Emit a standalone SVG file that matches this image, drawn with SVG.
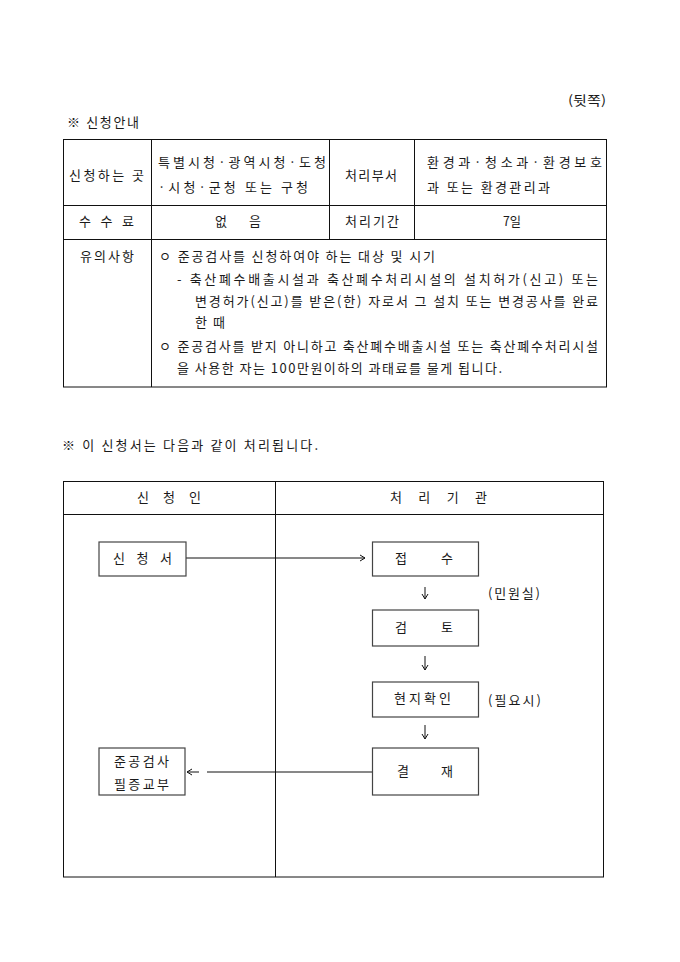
<svg xmlns="http://www.w3.org/2000/svg" width="680" height="962" viewBox="0 0 680 962">
<defs>
<style>
text{font-family:"Noto Sans CJK KR","Noto Sans",sans-serif;font-size:13px;fill:#1a1a1a;}
.c{text-anchor:middle;}
.r{text-anchor:end;}
.tl{stroke:#111;stroke-width:1;fill:none;}
.box{stroke:#444;stroke-width:1.2;fill:#fff;}
.con{stroke:#111;stroke-width:1;fill:none;}
</style>
<marker id="ah" markerWidth="8" markerHeight="8" refX="7" refY="4" orient="auto" markerUnits="userSpaceOnUse">
<path d="M2,1 L7,4 L2,7" fill="none" stroke="#111" stroke-width="1"/>
</marker>
</defs>
<rect width="680" height="962" fill="#fff"/>

<text class="r" x="606" y="105" textLength="38" lengthAdjust="spacingAndGlyphs">(뒷쪽)</text>
<text x="67" y="127" textLength="72" lengthAdjust="spacing">※ 신청안내</text>

<g id="info-table">
<rect class="tl" x="63.5" y="139.5" width="543" height="247.5"/>
<line class="tl" x1="63.5" y1="205.5" x2="606.5" y2="205.5"/>
<line class="tl" x1="63.5" y1="239.5" x2="606.5" y2="239.5"/>
<line class="tl" x1="151.5" y1="139.5" x2="151.5" y2="387"/>
<line class="tl" x1="329.5" y1="139.5" x2="329.5" y2="239.5"/>
<line class="tl" x1="414.5" y1="139.5" x2="414.5" y2="239.5"/>

<text x="69" y="180" textLength="75" lengthAdjust="spacing">신청하는 곳</text>
<text x="158" y="167" textLength="168" lengthAdjust="spacing">특별시청·광역시청·도청</text>
<text x="158" y="192" textLength="150" lengthAdjust="spacing">·시청·군청 또는 구청</text>
<text x="345" y="180" textLength="52" lengthAdjust="spacing">처리부서</text>
<text x="427" y="167" textLength="175" lengthAdjust="spacing">환경과·청소과·환경보호</text>
<text x="427" y="192" textLength="123" lengthAdjust="spacing">과 또는 환경관리과</text>

<text x="79" y="226" textLength="55" lengthAdjust="spacing">수 수 료</text>
<text x="215" y="226" textLength="46" lengthAdjust="spacing">없 음</text>
<text x="345" y="226" textLength="54" lengthAdjust="spacing">처리기간</text>
<text x="503" y="226" textLength="18" lengthAdjust="spacingAndGlyphs">7일</text>

<text x="80" y="261" textLength="54" lengthAdjust="spacing">유의사항</text>
<text x="159" y="261" textLength="276" lengthAdjust="spacing">ㅇ 준공검사를 신청하여야 하는 대상 및 시기</text>
<text x="177" y="284" textLength="421" lengthAdjust="spacing">-  축산폐수배출시설과  축산폐수처리시설의  설치허가(신고)  또는</text>
<text x="195" y="306" textLength="403" lengthAdjust="spacing">변경허가(신고)를 받은(한) 자로서 그 설치 또는 변경공사를 완료</text>
<text x="195" y="327" textLength="30" lengthAdjust="spacing">한 때</text>
<text x="159" y="351" textLength="439" lengthAdjust="spacing">ㅇ 준공검사를 받지 아니하고 축산폐수배출시설 또는 축산폐수처리시설</text>
<text x="177" y="373" textLength="325" lengthAdjust="spacing">을 사용한 자는 100만원이하의 과태료를 물게 됩니다.</text>
</g>

<text x="62" y="450" textLength="256" lengthAdjust="spacing">※ 이 신청서는 다음과 같이 처리됩니다.</text>

<g id="flow-frame">
<rect class="tl" x="63.5" y="481.5" width="540" height="395.5"/>
<line class="tl" x1="63.5" y1="514.5" x2="603.5" y2="514.5"/>
<line class="tl" x1="275.5" y1="481.5" x2="275.5" y2="877"/>
<text x="137" y="502" textLength="64" lengthAdjust="spacing">신 청 인</text>
<text x="390" y="502" textLength="97" lengthAdjust="spacing">처 리 기 관</text>
</g>

<g id="connectors">
<path class="con" d="M186,558 H365" marker-end="url(#ah)"/>
<path class="con" d="M372,772 H207 M199,772 H187" marker-end="url(#ah)"/>
<path class="con" d="M425,587 V599" marker-end="url(#ah)"/>
<path class="con" d="M425,656 V670" marker-end="url(#ah)"/>
<path class="con" d="M425,725 V739" marker-end="url(#ah)"/>
</g>

<g id="n-apply">
<rect class="box" x="99" y="542" width="87" height="34"/>
<text x="113" y="563" textLength="59" lengthAdjust="spacing">신 청 서</text>
</g>
<g id="n-receive">
<rect class="box" x="372.5" y="542" width="106" height="34"/>
<text x="395" y="563" textLength="58" lengthAdjust="spacing">접 수</text>
<text x="488" y="598" textLength="52" lengthAdjust="spacing">(민원실)</text>
</g>
<g id="n-review">
<rect class="box" x="372.5" y="610" width="106" height="36"/>
<text x="395" y="632" textLength="58" lengthAdjust="spacing">검 토</text>
</g>
<g id="n-site">
<rect class="box" x="372.5" y="682" width="106" height="35"/>
<text x="394" y="703" textLength="57" lengthAdjust="spacing">현지확인</text>
<text x="488" y="705" textLength="53" lengthAdjust="spacing">(필요시)</text>
</g>
<g id="n-approve">
<rect class="box" x="372.5" y="748" width="106" height="47"/>
<text x="397" y="776" textLength="56" lengthAdjust="spacing">결 재</text>
</g>
<g id="n-issue">
<rect class="box" x="99" y="748" width="86" height="47"/>
<text x="114" y="766" textLength="55" lengthAdjust="spacing">준공검사</text>
<text x="114" y="789" textLength="55" lengthAdjust="spacing">필증교부</text>
</g>
</svg>
